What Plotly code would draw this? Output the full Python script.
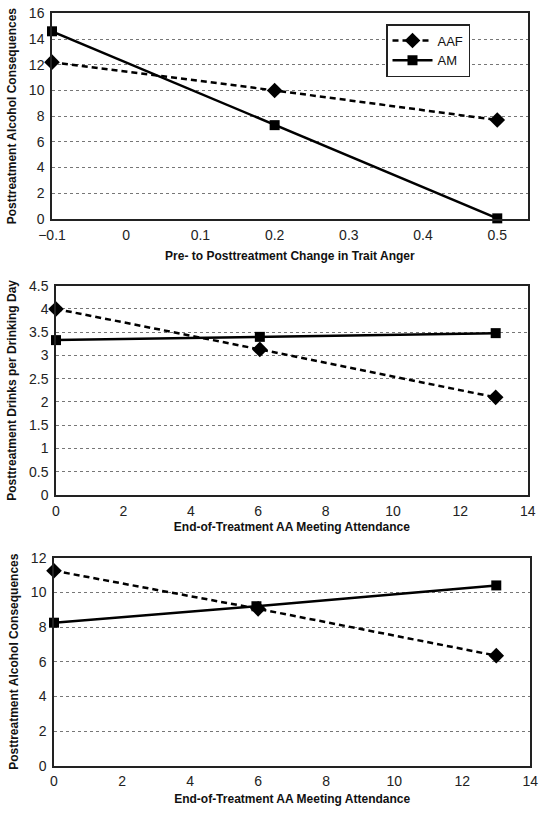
import plotly.graph_objects as go

W, H = 545, 815

# ---- data ----
anger_x = [-0.1, 0.2, 0.5]
anger_aaf = [12.2, 10.0, 7.7]
anger_am = [14.6, 7.3, 0.05]

aa_x_p2 = [0, 6.05, 13.05]
drinks_aaf = [4.0, 3.13, 2.1]
drinks_am = [3.33, 3.4, 3.48]

aa_x_p3_aaf = [0, 6.0, 13.0]
aa_x_p3_am = [0, 5.95, 13.0]
conseq_aaf = [11.25, 9.05, 6.35]
conseq_am = [8.25, 9.2, 10.4]

series_names = ["AAF", "AM"]

x_titles = ["Pre- to Posttreatment Change in Trait Anger",
            "End-of-Treatment AA Meeting Attendance",
            "End-of-Treatment AA Meeting Attendance"]
y_titles = ["Posttreatment Alcohol Consequences",
            "Posttreatment Drinks per Drinking Day",
            "Posttreatment Alcohol Consequences"]

# ---- plot boxes in window pixels (left, right, top, bottom) ----
boxes = [(52, 527.7, 13.3, 219),
         (56, 527.7, 285.7, 495),
         (54, 530.3, 557.7, 765.7)]

FONT = "Liberation Sans Narrow, Arial Narrow, Liberation Sans, Arial, sans-serif"

fig = go.Figure()

def add_pair(xa, ya, xs_aaf, ys_aaf, xs_am, ys_am, show):
    fig.add_trace(go.Scatter(
        x=xs_aaf, y=ys_aaf, name=series_names[0], mode="lines+markers",
        line=dict(color="black", width=2.5, dash="6px,4px"),
        marker=dict(symbol="diamond", size=12, color="black"),
        xaxis=xa, yaxis=ya, showlegend=show, cliponaxis=False))
    fig.add_trace(go.Scatter(
        x=xs_am, y=ys_am, name=series_names[1], mode="lines+markers",
        line=dict(color="black", width=2.5),
        marker=dict(symbol="square", size=10, color="black"),
        xaxis=xa, yaxis=ya, showlegend=show, cliponaxis=False))

add_pair("x", "y", anger_x, anger_aaf, anger_x, anger_am, True)
add_pair("x2", "y2", aa_x_p2, drinks_aaf, aa_x_p2, drinks_am, False)
add_pair("x3", "y3", aa_x_p3_aaf, conseq_aaf, aa_x_p3_am, conseq_am, False)

x_ranges = [[-0.1, 0.541], [0, 14], [0, 14]]
x_dticks = [0.1, 2, 2]
y_ranges = [[0, 16], [0, 4.5], [0, 12]]
y_dticks = [2, 0.5, 2]
x_title_standoff = [10, 5, 6]

tickfont = dict(family=FONT, size=14, color="#222")
titlefont = dict(family=FONT, size=12, color="#111", weight="bold")

layout = {}
for i, (l, r, t, b) in enumerate(boxes):
    sx = "" if i == 0 else str(i + 1)
    layout["xaxis" + sx] = dict(
        domain=[l / W, r / W], anchor="y" + sx, range=x_ranges[i],
        dtick=x_dticks[i], tick0=x_ranges[i][0] if i == 0 else 0,
        showgrid=False, zeroline=False, showline=True, linecolor="#222",
        linewidth=1.5, mirror=True, ticks="", tickfont=tickfont,
        ticklabelstandoff=2, automargin=False, ticklabeloverflow="allow",
        title=dict(text=x_titles[i], font=titlefont, standoff=x_title_standoff[i]))
    layout["yaxis" + sx] = dict(
        domain=[(H - b) / H, (H - t) / H], anchor="x" + sx, range=y_ranges[i],
        dtick=y_dticks[i], showgrid=True, gridcolor="#777", griddash="dot",
        gridwidth=1, zeroline=False, showline=True, linecolor="#222",
        linewidth=1.5, mirror=True, ticks="", tickfont=tickfont,
        ticklabelstandoff=3, automargin=False, ticklabeloverflow="allow",
        title=dict(text=y_titles[i], font=titlefont, standoff=10))

fig.update_layout(
    width=W, height=H, margin=dict(l=0, r=0, t=0, b=0, autoexpand=False),
    paper_bgcolor="white", plot_bgcolor="white",
    font=dict(family=FONT, color="#111"),
    legend=dict(x=386 / W, y=(H - 24) / H, xanchor="left", yanchor="top",
                bgcolor="white", bordercolor="#222", borderwidth=1.5,
                font=dict(family=FONT, size=13, color="#111"),
                itemwidth=40, tracegroupgap=0),
    **layout)

# remove the browser's default 8px body margin so the figure fills the window
fig.write_html("out.html",
               config={"displayModeBar": False},
               post_script="document.body.style.margin='0px';")
